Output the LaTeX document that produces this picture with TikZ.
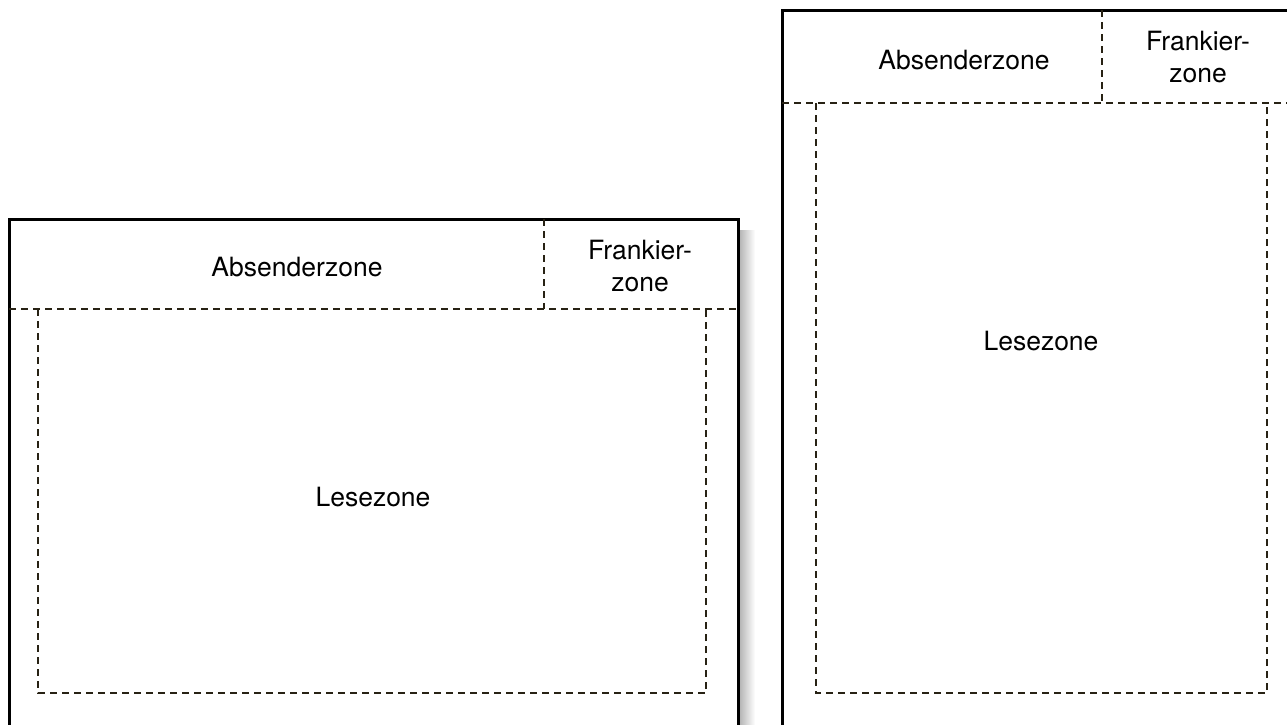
\documentclass[tikz,border=0pt]{standalone}
\usepackage{fontspec}
\setmainfont{TeX Gyre Heros}
\usetikzlibrary{shadings}

\begin{document}
\begin{tikzpicture}[x=1pt, y=-1pt]

% Define colours
\definecolor{dashbrown}{RGB}{40,34,20}

% Define styles for sheet border, zone lines and zone names
\tikzset{
  sheet/.style={line width=3pt, black},
  zoneline/.style={line width=2pt, dashbrown, dash pattern=on 7pt off 5pt},
  zonetext/.style={font=\fontsize{26.5}{32}\selectfont, align=center, inner sep=0pt}
}

% Picture size
\useasboundingbox (0,0) rectangle (1287,724);

% Left sheet: shadow on the right
\shade[left color=gray!60, right color=white] (739,230) rectangle (755,724);

% Left sheet: border
\draw[sheet] (9,740) -- (9,219) -- (738,219) -- (738,740);

% Left sheet: zones
\draw[zoneline] (9,309) -- (738,309); % top zones
\draw[zoneline] (544,219) -- (544,309); % Absender | Frankier
\draw[zoneline] (38,309) -- (38,693) -- (706,693) -- (706,309); % reading zone

% Left sheet: names
\node[zonetext] (absL) at (297,267) {Absenderzone};
\node[zonetext] (frankL) at (640,266) {Frankier-\\zone};
\node[zonetext] (leseL) at (373,497) {Lesezone};

% Right sheet: border
\draw[sheet] (782,740) -- (782,10) -- (1300,10);

% Right sheet: zones
\draw[zoneline] (782,103) -- (1300,103); % top zones
\draw[zoneline] (1102,10) -- (1102,103); % Absender | Frankier
\draw[zoneline] (816,103) -- (816,693) -- (1267,693) -- (1267,103); % reading zone

% Right sheet: names
\node[zonetext] (absR) at (964,60) {Absenderzone};
\node[zonetext] (frankR) at (1198,57) {Frankier-\\zone};
\node[zonetext] (leseR) at (1041,341) {Lesezone};

\end{tikzpicture}
\end{document}
